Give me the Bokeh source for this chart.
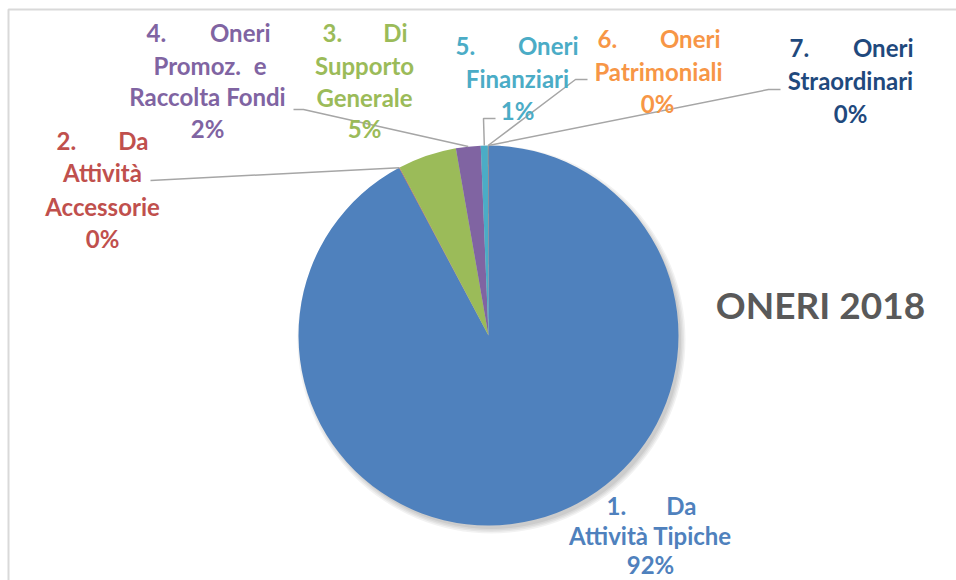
import numpy as np
from bokeh.plotting import figure
from bokeh.models import Range1d
from bokeh.core.properties import value
from bokeh.embed import file_html
from bokeh.resources import INLINE

# ---------------- data ----------------
categories = ["1. Da Attività Tipiche", "2. Da Attività Accessorie",
              "3. Di Supporto Generale", "4. Oneri Promoz. e Raccolta Fondi",
              "5. Oneri Finanziari", "6. Oneri Patrimoniali", "7. Oneri Straordinari"]
values = [92.2, 0.05, 5.0, 2.1, 0.6, 0.03, 0.02]
colors = ["#4f81bd", "#c0504d", "#9bbb59", "#8064a2", "#4bacc6", "#f79646", "#1f497d"]
title = "ONERI 2018"

W, H = 956, 580
def Y(y):
    return H - y

FONT = value("Lato")
FS = "24px"

p = figure(width=W, height=H, output_backend="svg", toolbar_location=None,
           x_range=Range1d(0, W), y_range=Range1d(0, H), min_border=0)
p.axis.visible = False
p.grid.visible = False
p.outline_line_color = None
p.background_fill_color = "white"
p.border_fill_color = "white"

# frame (top and left edges)
p.line([8, 8, W + 5], [Y(H + 5), Y(9), Y(9)], line_color="#d9d9d9", line_width=2)

# pie geometry
cx, cy, r = 488, 335, 190
vals = np.array(values, dtype=float)
frac = vals / vals.sum()
cum = np.concatenate([[0], np.cumsum(frac)])
start = np.pi / 2 - 2 * np.pi * cum[:-1]
end = np.pi / 2 - 2 * np.pi * cum[1:]
mid = (start + end) / 2

# soft shadow
for k, a in enumerate([0.05, 0.05, 0.05, 0.06]):
    p.circle(x=[cx + 3], y=[Y(cy + 4)], radius=r + 4 - k * 1.5,
             fill_color="#000000", fill_alpha=a, line_color=None)

p.wedge(x=cx, y=Y(cy), radius=r, start_angle=start, end_angle=end,
        direction="clock", fill_color=colors, line_color=None)

pct = [f"{int(round(f * 100))}%" for f in frac]

# ---------------- labels (layout) ----------------
# justified lines: (left word, right word, x_left, x_right, y); centred lines: (text, x, y)
labels = {
    0: dict(j=[("1.", "Da", 606, 696, 505)], lines=[("Attività Tipiche", 650, 535)], p=(650, 564)),
    1: dict(j=[("2.", "Da", 56, 148, 140)], lines=[("Attività", 102, 172), ("Accessorie", 102, 206)], p=(102, 238)),
    2: dict(j=[("3.", "Di", 322, 407, 32)], lines=[("Supporto", 364, 65), ("Generale", 364, 97)], p=(364, 128)),
    3: dict(j=[("4.", "Oneri", 146, 270, 32), ("Promoz.", "e", 153, 266, 65)],
            lines=[("Raccolta Fondi", 207, 96)], p=(207, 128)),
    4: dict(j=[("5.", "Oneri", 455, 578, 45)], lines=[("Finanziari", 517, 78)], p=(517, 110)),
    5: dict(j=[("6.", "Oneri", 597, 720, 38)], lines=[("Patrimoniali", 658, 71)], p=(657, 103)),
    6: dict(j=[("7.", "Oneri", 789, 913, 47)], lines=[("Straordinari", 850, 80)], p=(850, 113)),
}

leaders = {
    1: [(150, 180)],
    3: [(293, 109), (303, 109)],
    4: [(495, 118), (483, 118)],
    5: [(587, 79), (575, 79)],
    6: [(780, 89), (768, 89)],
}
for i, pts in leaders.items():
    ex = cx + r * np.cos(mid[i])
    ey = Y(cy) + r * np.sin(mid[i])
    xs = [pt[0] for pt in pts] + [ex]
    ys = [Y(pt[1]) for pt in pts] + [ey]
    p.line(xs, ys, line_color="#a6a6a6", line_width=1.5)

def txt(x, y, t, align, c, size=FS):
    p.text(x=[x], y=[Y(y)], text=[t], text_align=align, text_baseline="middle",
           text_font=FONT, text_font_style="bold", text_font_size=size, text_color=c)

for i, lab in labels.items():
    c = colors[i]
    for l, rr, xl, xr, yy in lab["j"]:
        txt(xl, yy, l, "left", c)
        txt(xr, yy, rr, "right", c)
    for t, tx, ty in lab["lines"]:
        txt(tx, ty, t, "center", c)
    px, py = lab["p"]
    txt(px, py, pct[i], "center", c)

txt(820, 304, title, "center", "#595959", "37px")

open("out.html", "w").write(file_html(p, INLINE))
